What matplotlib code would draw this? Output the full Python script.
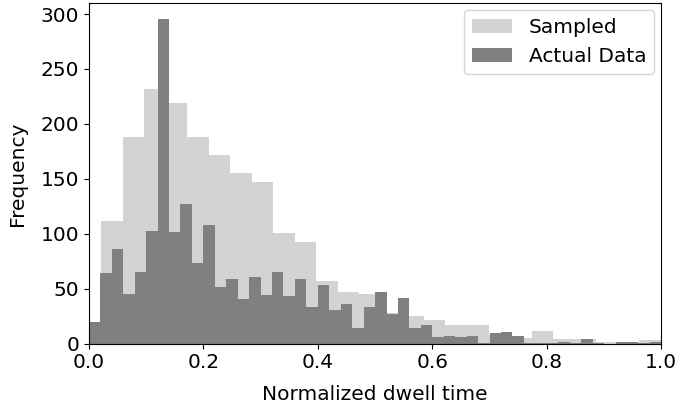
import matplotlib
matplotlib.use("Agg")
import matplotlib.pyplot as plt
import numpy as np

# Sampled histogram: 26 bins over the sampled range
sampled_range = (0.0213, 0.9991)
sampled_counts = [112, 188, 232, 219, 188, 172, 155, 147, 101, 93,
                  57, 47, 45, 28, 25, 22, 17, 17, 8, 5,
                  12, 4, 4, 2, 2, 3]

# Actual data histogram: 50 bins over [0, 1]
actual_range = (0.0, 1.0)
actual_counts = [20, 64, 86, 45, 65, 103, 295, 102, 127, 73,
                 108, 52, 59, 41, 61, 44, 65, 43, 59, 33,
                 53, 31, 36, 14, 33, 47, 27, 42, 14, 17,
                 6, 7, 6, 7, 1, 10, 11, 7, 1, 1,
                 1, 2, 1, 4, 1, 0, 2, 2, 1, 2]

fs = 14.5

fig = plt.figure(figsize=(6.81, 4.07), dpi=100)
ax = fig.add_axes([0.1304, 0.1555, 0.8407, 0.8371])

s_edges = np.linspace(sampled_range[0], sampled_range[1], len(sampled_counts) + 1)
a_edges = np.linspace(actual_range[0], actual_range[1], len(actual_counts) + 1)

ax.bar(s_edges[:-1], sampled_counts, width=np.diff(s_edges), align='edge',
       color='lightgray', linewidth=0, label='Sampled')
ax.bar(a_edges[:-1], actual_counts, width=np.diff(a_edges), align='edge',
       color='gray', linewidth=0, label='Actual Data')

ax.set_xlim(0, 1)
ax.set_ylim(0, 310)
ax.set_yticks([0, 50, 100, 150, 200, 250, 300])
ax.set_xticks([0, 0.2, 0.4, 0.6, 0.8, 1.0])
ax.tick_params(labelsize=fs)
ax.set_xlabel('Normalized dwell time', fontsize=fs, labelpad=9)
ax.set_ylabel('Frequency', fontsize=fs, labelpad=10)
ax.legend(loc='upper right', fontsize=fs, borderaxespad=0.35)

fig.savefig('out.png', dpi=100)
